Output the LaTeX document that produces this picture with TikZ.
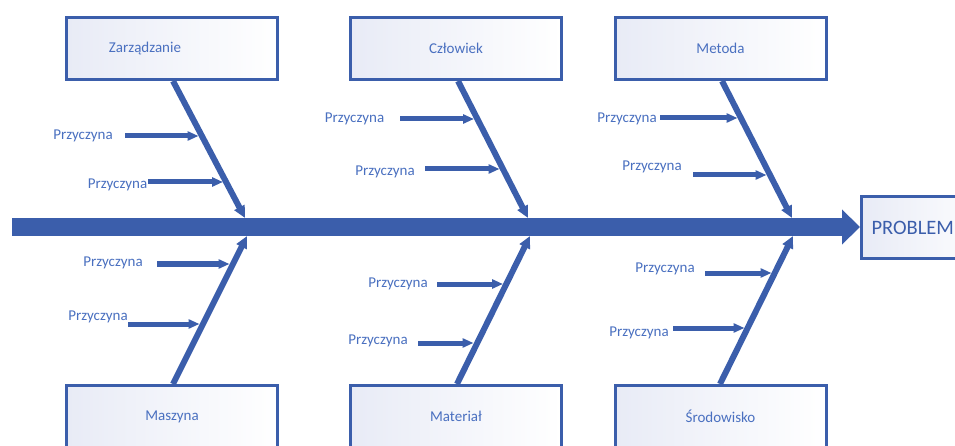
\documentclass[tikz,border=0pt]{standalone}
\usepackage{fontspec}
\setmainfont{Carlito}
\usetikzlibrary{arrows.meta,calc}
\definecolor{fbline}{HTML}{3B5EAB}
\definecolor{fbtext}{HTML}{4A70C0}
\definecolor{fbfill}{HTML}{E8EBF6}
\begin{document}
\begin{tikzpicture}[x=1pt,y=-1pt,
  catbox/.style={draw=fbline, line width=3pt, left color=fbfill, right color=white,
    minimum width=211pt, minimum height=62pt, inner sep=0pt, text=fbtext,
    font=\fontsize{15}{17}\selectfont},
  probbox/.style={draw=fbline, line width=3pt, left color=fbfill, right color=white,
    minimum width=130pt, minimum height=62pt, inner xsep=10pt, text=fbline,
    font=\fontsize{20.5}{22}\selectfont, anchor=west, align=left, text width=110pt},
  cause/.style={text=fbtext, font=\fontsize{15}{17}\selectfont, inner sep=0pt},
  spine/.style={draw=fbline, line width=18pt, -{Triangle[length=18pt,width=34pt]}},
  bone/.style={draw=fbline, line width=6pt, -{Triangle[length=12pt,width=11pt]}},
  causearrow/.style={draw=fbline, line width=5pt, -{Triangle[length=11pt,width=9pt]}}
]
\useasboundingbox (0,0) rectangle (955,446);
\clip (0,0) rectangle (955,446);
\fill[white] (0,0) rectangle (955,446);

% spine
\node[probbox] (problem) at (860,227.5) {PROBLEM};
\coordinate (tail) at (12,227);
\draw[spine] (tail) -- (tail -| problem.west);

% category boxes
\node[catbox, label={[cause, xshift=-27pt]center:Zarządzanie}] (zbox) at (172,48.5) {};
\node[catbox] (cbox) at (456,48.5) {Człowiek};
\node[catbox] (mbox) at (720.5,48.5) {Metoda};
\node[catbox] (mabox) at (172,416.5) {Maszyna};
\node[catbox] (matbox) at (456,416.5) {Materiał};
\node[catbox] (sbox) at (720.5,416.5) {Środowisko};

% bone tips on the spine
\coordinate (zt) at (245,218);
\coordinate (ct) at (528,218);
\coordinate (mt) at (792,218);
\coordinate (mat) at (247,236);
\coordinate (matt) at (530,236);
\coordinate (st) at (793,236);

\draw[bone] ([xshift=1pt]zbox.south) -- (zt);
\draw[bone] ([xshift=2pt]cbox.south) -- (ct);
\draw[bone] ([xshift=1.5pt]mbox.south) -- (mt);
\draw[bone] ([xshift=1pt]mabox.north) -- (mat);
\draw[bone] ([xshift=1pt]matbox.north) -- (matt);
\draw[bone] ([xshift=-0.5pt]sbox.north) -- (st);

% causes
\node[cause] (z1) at (83,136) {Przyczyna};
\node[cause] (z2) at (117.5,185) {Przyczyna};
\node[cause] (c1) at (354.5,119) {Przyczyna};
\node[cause] (c2) at (385,172) {Przyczyna};
\node[cause] (m1) at (627,119) {Przyczyna};
\node[cause] (m2) at (652,167) {Przyczyna};
\node[cause] (ma1) at (113,263) {Przyczyna};
\node[cause] (ma2) at (98,317) {Przyczyna};
\node[cause] (mt1) at (398,284) {Przyczyna};
\node[cause] (mt2) at (378,341) {Przyczyna};
\node[cause] (s1) at (665,269) {Przyczyna};
\node[cause] (s2) at (639,333) {Przyczyna};

\coordinate (z1s) at (125,136);   \coordinate (z1e) at (198.5,136);
\coordinate (z2s) at (148,182);   \coordinate (z2e) at (223,182);
\coordinate (c1s) at (400,119);   \coordinate (c1e) at (474,119);
\coordinate (c2s) at (425,169);   \coordinate (c2e) at (499.5,169);
\coordinate (m1s) at (660,118);   \coordinate (m1e) at (737.5,118);
\coordinate (m2s) at (693,175);   \coordinate (m2e) at (766.5,175);
\coordinate (ma1s) at (157,264);  \coordinate (ma1e) at (229.5,264);
\coordinate (ma2s) at (128,324);  \coordinate (ma2e) at (199.5,324);
\coordinate (mt1s) at (437,284);  \coordinate (mt1e) at (503,284);
\coordinate (mt2s) at (418,343);  \coordinate (mt2e) at (473.5,343);
\coordinate (s1s) at (705,273);   \coordinate (s1e) at (771.5,273);
\coordinate (s2s) at (673,328);   \coordinate (s2e) at (744.5,328);

\foreach \a in {z1,z2,c1,c2,m1,m2,ma1,ma2,mt1,mt2,s1,s2}
  \draw[causearrow] (\a s) -- (\a e);
\end{tikzpicture}
\end{document}
